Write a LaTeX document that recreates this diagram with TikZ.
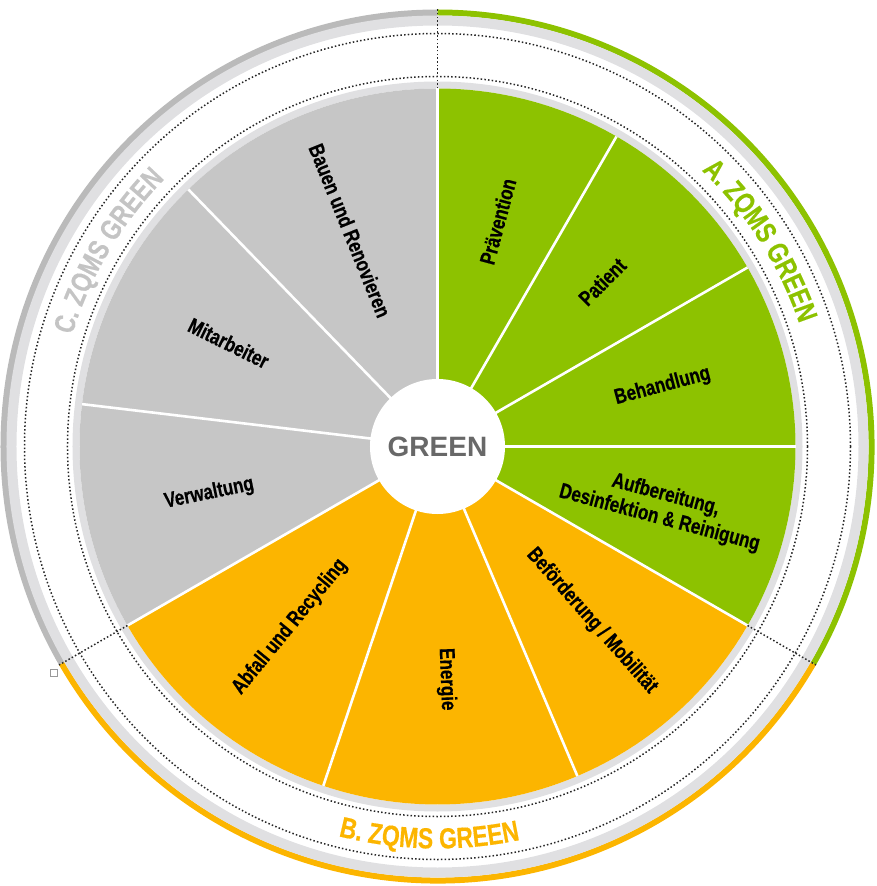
\documentclass[tikz,border=0pt]{standalone}
\usepackage{fontspec}
\setmainfont{Liberation Sans}
\newfontfamily\condfont[FakeStretch=0.79, BoldFeatures={FakeBold=0.4}]{Liberation Sans}
\usetikzlibrary{decorations.text}
\definecolor{zqgreen}{RGB}{141,194,0}
\definecolor{zqorange}{RGB}{252,181,0}
\definecolor{zqgray}{RGB}{198,198,198}
\definecolor{bandgray}{RGB}{224,224,226}
\definecolor{rimgray}{RGB}{186,186,186}
\definecolor{titlegray}{RGB}{196,196,196}
\definecolor{coregray}{RGB}{104,104,104}
\newcommand\ringfont{\condfont\bfseries\fontsize{29}{30}\selectfont}

\begin{document}
\begin{tikzpicture}[x=1pt, y=1pt,
  every node/.style={font=\condfont\bfseries\fontsize{21.5}{24}\selectfont,
    align=center, inner sep=0},
  dotline/.style={draw=black!85, line width=1.5pt, dash pattern=on 1.5pt off 2.2pt}]
  \def\rwheel{358}
  \def\mywedge#1#2#3#4#5{
    \fill[#1] (0,0) -- (#3:\rwheel)
    arc[start angle=#3, end angle=#4, radius=\rwheel] -- cycle;
    \pgfmathsetmacro\midang{(#3+#4)/2}
    \pgfmathsetmacro\turn{cos(\midang) > -0.05 ? \midang : \midang+180}
    \node[rotate=\turn] (#2) at (\midang:233) {#5};
  }
  \useasboundingbox (-437.5,-439.5) rectangle (439.5,446.5);

  % outer rim and bands
  \draw[rimgray, line width=7pt] (90:433.5) arc[start angle=90, end angle=210, radius=433.5];
  \draw[zqorange, line width=6pt] (210:434) arc[start angle=210, end angle=330, radius=434];
  \draw[zqgreen, line width=6pt] (-30:434) arc[start angle=-30, end angle=90, radius=434];
  \draw[bandgray, line width=10pt] (0,0) circle[radius=426];
  \draw[dotline] (0,0) circle[radius=413];
  \draw[dotline] (0,0) circle[radius=370];
  \draw[bandgray, line width=7pt] (0,0) circle[radius=361.5];

  % A
  \mywedge{zqgreen}{praevention}{90}{60}{Prävention}
  \mywedge{zqgreen}{patient}{60}{30}{Patient}
  \mywedge{zqgreen}{behandlung}{30}{0}{Behandlung}
  \mywedge{zqgreen}{aufbereitung}{0}{-30}{Aufbereitung,\\Desinfektion \& Reinigung}
  % B
  \mywedge{zqorange}{befoerderung}{-30}{-67}{Beförderung / Mobilität}
  \mywedge{zqorange}{energie}{-67}{-108.6}{Energie}
  \mywedge{zqorange}{abfall}{-108.6}{-150}{Abfall und Recycling}
  % C
  \mywedge{zqgray}{verwaltung}{210}{173.2}{Verwaltung}
  \mywedge{zqgray}{mitarbeiter}{173.2}{134.1}{Mitarbeiter}
  \mywedge{zqgray}{bauen}{134.1}{90}{Bauen und Renovieren}

  \foreach \a in {90,60,30,0,-30,-67,-108.6,-150,173.2,134.1}
    \draw[white, line width=2.6pt] (0,0) -- (\a:\rwheel);

  \node[circle, fill=white, minimum size=135pt, text=coregray,
    font=\normalfont\bfseries\fontsize{28}{30}\selectfont] (core) at (0,0) {GREEN};

  \foreach \a in {90,-30,210}
    \draw[dotline] (\a:358) -- (\a:437);

  % ring titles
  \path[font=\ringfont, decorate, decoration={text along path, text align=center,
    text color=zqgreen, text={|\ringfont|A. ZQMS GREEN}}]
    (72:382) arc[start angle=72, end angle=-7, radius=382];
  \path[font=\ringfont, decorate, decoration={text along path, text align=center,
    text color=titlegray, text={|\ringfont|C. ZQMS GREEN}}]
    (189:382) arc[start angle=189, end angle=109.6, radius=382];
  \path[font=\ringfont, decorate, decoration={text along path, text align=center,
    text color=zqorange, text={|\ringfont|B. ZQMS GREEN}}]
    (-131:402) arc[start angle=-131, end angle=-51.4, radius=402];

  \draw[black!40, fill=white, line width=0.6pt] (-387.3,-229.3) rectangle (-380.3,-222.3);
\end{tikzpicture}
\end{document}
